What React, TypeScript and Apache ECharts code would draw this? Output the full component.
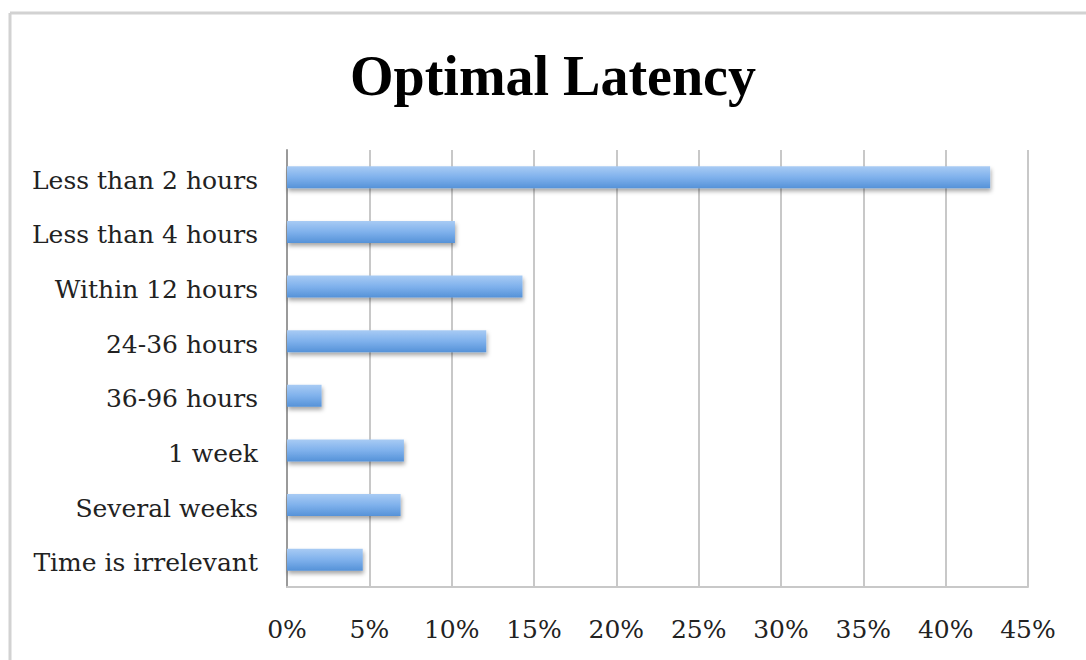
import React, { useEffect, useRef } from "react";
import * as echarts from "echarts";

const categories = [
  "Less than 2 hours",
  "Less than 4 hours",
  "Within 12 hours",
  "24-36 hours",
  "36-96 hours",
  "1 week",
  "Several weeks",
  "Time is irrelevant",
];
const values = [42.7, 10.2, 14.3, 12.1, 2.1, 7.1, 6.9, 4.6];
const xMin = 0;
const xMax = 45;
const xInterval = 5;
const titleText = "Optimal Latency";

const FONT = "'DejaVu Serif', 'Liberation Serif', serif";
const TITLE_FONT = "'Liberation Serif', 'DejaVu Serif', serif";

export default function App() {
  const ref = useRef<HTMLDivElement>(null);
  useEffect(() => {
    if (!ref.current) return;
    const chart = echarts.init(ref.current, undefined, { renderer: "svg" });
    chart.setOption({
      animation: false,
      backgroundColor: "#ffffff",
      title: {
        text: titleText,
        left: 345,
        top: 43,
        textStyle: { fontFamily: TITLE_FONT, fontSize: 56, fontWeight: "bold", color: "#000" },
      },
      graphic: [
        { type: "line", shape: { x1: 10, y1: 13, x2: 1086, y2: 13 }, style: { stroke: "#d2d2d2", lineWidth: 3 } },
        { type: "line", shape: { x1: 10, y1: 13, x2: 10, y2: 660 }, style: { stroke: "#d2d2d2", lineWidth: 3 } },
      ],
      grid: { left: 287, right: 58, top: 150, bottom: 73, containLabel: false },
      xAxis: {
        type: "value",
        min: xMin,
        max: xMax,
        interval: xInterval,
        axisLine: { show: true, lineStyle: { color: "#c8c8c8", width: 2 } },
        axisTick: { show: false },
        splitLine: { show: true, lineStyle: { color: "#c8c8c8", width: 2 } },
        axisLabel: {
          formatter: "{value}%",
          fontFamily: FONT,
          fontSize: 25,
          color: "#222",
          margin: 30,
        },
      },
      yAxis: {
        type: "category",
        data: categories,
        inverse: true,
        axisLine: { show: true, lineStyle: { color: "#9a9a9a", width: 2 } },
        axisTick: { show: false },
        axisLabel: {
          margin: 29,
          formatter: (v: string) => `{a|${v}}`,
          rich: {
            a: {
              fontFamily: FONT,
              fontSize: 25,
              color: "#222",
              padding: [6, 0, 0, 0],
            },
          },
        },
      },
      series: [
        {
          type: "bar",
          data: values,
          barWidth: 22,
          itemStyle: {
            color: new echarts.graphic.LinearGradient(0, 0, 0, 1, [
              { offset: 0, color: "#a8cbf4" },
              { offset: 0.5, color: "#7fb1ec" },
              { offset: 1, color: "#5592d8" },
            ]),
            shadowColor: "rgba(0,0,0,0.35)",
            shadowBlur: 4,
            shadowOffsetX: 1,
            shadowOffsetY: 3,
          },
        },
      ],
    });
    return () => chart.dispose();
  }, []);
  return (
    <div
      ref={ref}
      style={{ position: "fixed", left: 0, top: 0, width: 1086, height: 660 }}
    />
  );
}
